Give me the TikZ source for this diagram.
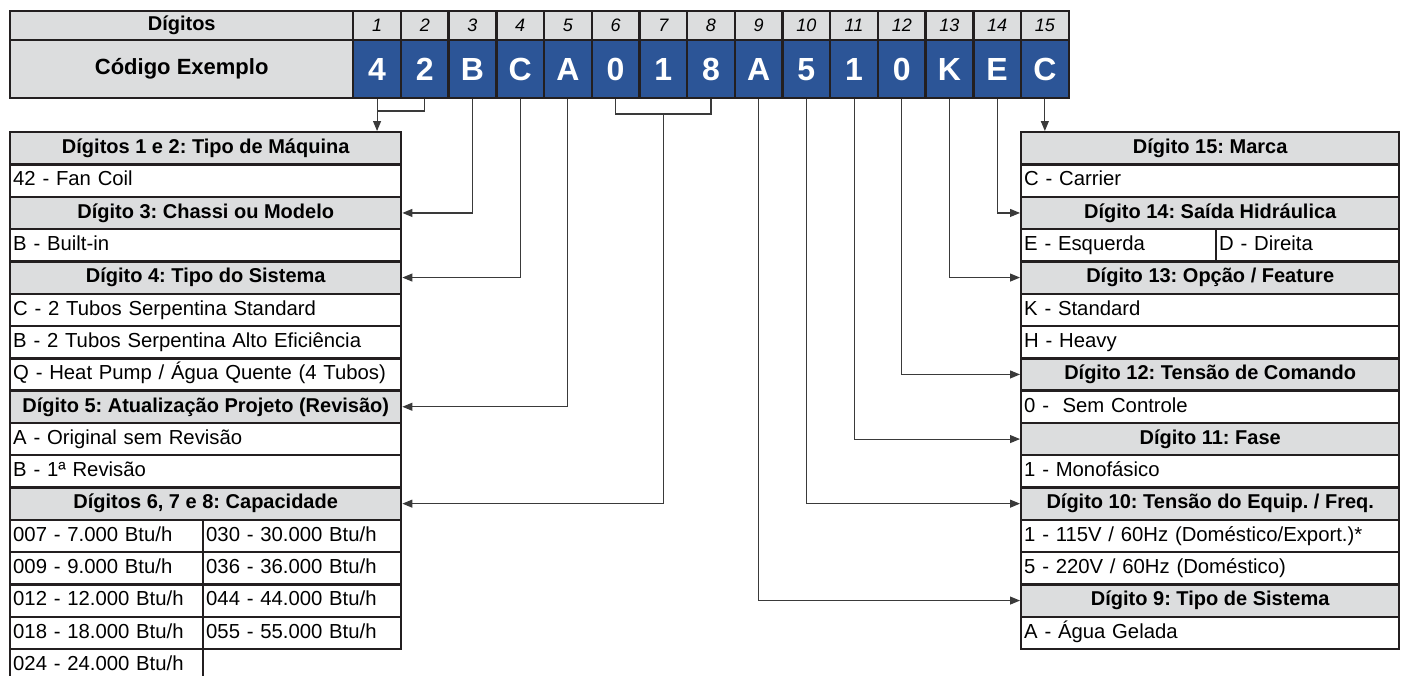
\documentclass[tikz,border=0pt]{standalone}
\usepackage{fontspec}
\setmainfont{Liberation Sans}
\usetikzlibrary{arrows.meta}
\definecolor{hgray}{HTML}{DCDDDE}
\definecolor{cblue}{HTML}{2C5597}
\definecolor{bline}{HTML}{231F20}
\definecolor{cline}{HTML}{3A3A3A}
\frenchspacing
\begin{document}
\frenchspacing
\begin{tikzpicture}[x=1pt,y=-1pt,
  cell/.style={rectangle, draw=bline, line width=2.4pt, inner sep=0pt, anchor=north west,
    minimum height=32.3pt, text height=14.5pt, text depth=4pt},
  hdr/.style={cell, fill=hgray, font=\bfseries\fontsize{20}{24}\selectfont},
  opt/.style={cell, fill=white, font=\fontsize{20.3}{24}\selectfont, align=left, inner xsep=3pt},
  topcell/.style={rectangle, draw=bline, line width=2.4pt, inner sep=0pt, anchor=north west},
  numcell/.style={topcell, fill=hgray, minimum width=47.7pt, minimum height=29pt,
    font=\itshape\fontsize{18}{21}\selectfont},
  codecell/.style={topcell, fill=cblue, text=white, minimum width=47.7pt, minimum height=58pt,
    font=\bfseries\fontsize{32}{36}\selectfont},
  conn/.style={draw=cline, line width=1.1pt},
  arr/.style={conn, -{Triangle[length=10pt,width=8pt]}}
]
\useasboundingbox (0,0) rectangle (1405,675);
\def\rh{32.3}

% ---------- top table ----------
\node[topcell, fill=hgray, minimum width=343pt, minimum height=29pt,
  font=\bfseries\fontsize{20}{23}\selectfont] (dig) at (9,10) {Dígitos};
\node[topcell, fill=hgray, minimum width=343pt, minimum height=58pt,
  font=\bfseries\fontsize{22}{26}\selectfont] (cod) at (9,39) {Código Exemplo};
\foreach \i/\c in {1/4,2/2,3/B,4/C,5/A,6/0,7/1,8/8,9/A,10/5,11/1,12/0,13/K,14/E,15/C}{
  \node[numcell] (n\i) at ({352+(\i-1)*47.7},10) {\i};
  \node[codecell] (c\i) at ({352+(\i-1)*47.7},39) {\c};
}

% ---------- left table ----------
\node[hdr, minimum width=391pt] (h12) at (9,{131+0*\rh}) {Dígitos 1 e 2: Tipo de Máquina};
\node[opt, text width=385pt] (l1) at (9,{131+1*\rh}) {42 - Fan Coil};
\node[hdr, minimum width=391pt] (h3) at (9,{131+2*\rh}) {Dígito 3: Chassi ou Modelo};
\node[opt, text width=385pt] (l3) at (9,{131+3*\rh}) {B - Built-in};
\node[hdr, minimum width=391pt] (h4) at (9,{131+4*\rh}) {Dígito 4: Tipo do Sistema};
\node[opt, text width=385pt] (l5) at (9,{131+5*\rh}) {C - 2 Tubos Serpentina Standard};
\node[opt, text width=385pt] (l6) at (9,{131+6*\rh}) {B - 2 Tubos Serpentina Alto Eficiência};
\node[opt, text width=385pt] (l7) at (9,{131+7*\rh}) {Q - Heat Pump / Água Quente (4 Tubos)};
\node[hdr, minimum width=391pt] (h5) at (9,{131+8*\rh}) {Dígito 5: Atualização Projeto (Revisão)};
\node[opt, text width=385pt] (l9) at (9,{131+9*\rh}) {A - Original sem Revisão};
\node[opt, text width=385pt] (l10) at (9,{131+10*\rh}) {B - 1ª Revisão};
\node[hdr, minimum width=391pt] (h68) at (9,{131+11*\rh}) {Dígitos 6, 7 e 8: Capacidade};
\foreach \k/\a/\b in {12/007 - 7.000 Btu\slash h/030 - 30.000 Btu\slash h,
                      13/009 - 9.000 Btu\slash h/036 - 36.000 Btu\slash h,
                      14/012 - 12.000 Btu\slash h/044 - 44.000 Btu\slash h,
                      15/018 - 18.000 Btu\slash h/055 - 55.000 Btu\slash h}{
  \node[opt, text width=187pt] (la\k) at (9,{131+\k*\rh}) {\a};
  \node[opt, text width=192pt] (lb\k) at (202,{131+\k*\rh}) {\b};
}
\node[opt, text width=187pt] (la16) at (9,{131+16*\rh}) {024 - 24.000 Btu/h};

% ---------- right table ----------
\node[hdr, minimum width=378pt] (r15) at (1020,{131+0*\rh}) {Dígito 15: Marca};
\node[opt, text width=372pt] (q1) at (1020,{131+1*\rh}) {C - Carrier};
\node[hdr, minimum width=378pt] (r14) at (1020,{131+2*\rh}) {Dígito 14: Saída Hidráulica};
\node[opt, text width=189pt] (q3a) at (1020,{131+3*\rh}) {E - Esquerda};
\node[opt, text width=177pt] (q3b) at (1215,{131+3*\rh}) {D - Direita};
\node[hdr, minimum width=378pt] (r13) at (1020,{131+4*\rh}) {Dígito 13: Opção / Feature};
\node[opt, text width=372pt] (q5) at (1020,{131+5*\rh}) {K - Standard};
\node[opt, text width=372pt] (q6) at (1020,{131+6*\rh}) {H - Heavy};
\node[hdr, minimum width=378pt] (r12) at (1020,{131+7*\rh}) {Dígito 12: Tensão de Comando};
\node[opt, text width=372pt] (q8) at (1020,{131+8*\rh}) {0 -\ \ Sem Controle};
\node[hdr, minimum width=378pt] (r11) at (1020,{131+9*\rh}) {Dígito 11: Fase};
\node[opt, text width=372pt] (q10) at (1020,{131+10*\rh}) {1 - Monofásico};
\node[hdr, minimum width=378pt] (r10) at (1020,{131+11*\rh}) {Dígito 10: Tensão do Equip. / Freq.};
\node[opt, text width=372pt] (q12) at (1020,{131+12*\rh}) {1 - 115V / 60Hz (Doméstico/Export.)*};
\node[opt, text width=372pt] (q13) at (1020,{131+13*\rh}) {5 - 220V / 60Hz (Doméstico)};
\node[hdr, minimum width=378pt] (r9) at (1020,{131+14*\rh}) {Dígito 9: Tipo de Sistema};
\node[opt, text width=372pt] (q15) at (1020,{131+15*\rh}) {A - Água Gelada};

% ---------- connectors ----------
\coordinate (lv12) at (0,111);
\coordinate (lv68) at (0,114);
\coordinate (b12) at (c1.south |- lv12);
\coordinate (b68) at (c7.south |- lv68);

\draw[conn] (c2.south) |- (b12);
\draw[arr] (c1.south) -- (c1.south |- h12.north);
\draw[arr] (c3.south) |- (h3.east);
\draw[arr] (c4.south) |- (h4.east);
\draw[arr] (c5.south) |- (h5.east);
\draw[conn] (c6.south) |- (b68);
\draw[conn] (c8.south) |- (b68);
\draw[arr] (b68) |- (h68.east);
\draw[arr] (c9.south) |- (r9.west);
\draw[arr] (c10.south) |- (r10.west);
\draw[arr] (c11.south) |- (r11.west);
\draw[arr] (c12.south) |- (r12.west);
\draw[arr] (c13.south) |- (r13.west);
\draw[arr] (c14.south) |- (r14.west);
\draw[arr] (c15.south) -- (c15.south |- r15.north);
\end{tikzpicture}
\end{document}
